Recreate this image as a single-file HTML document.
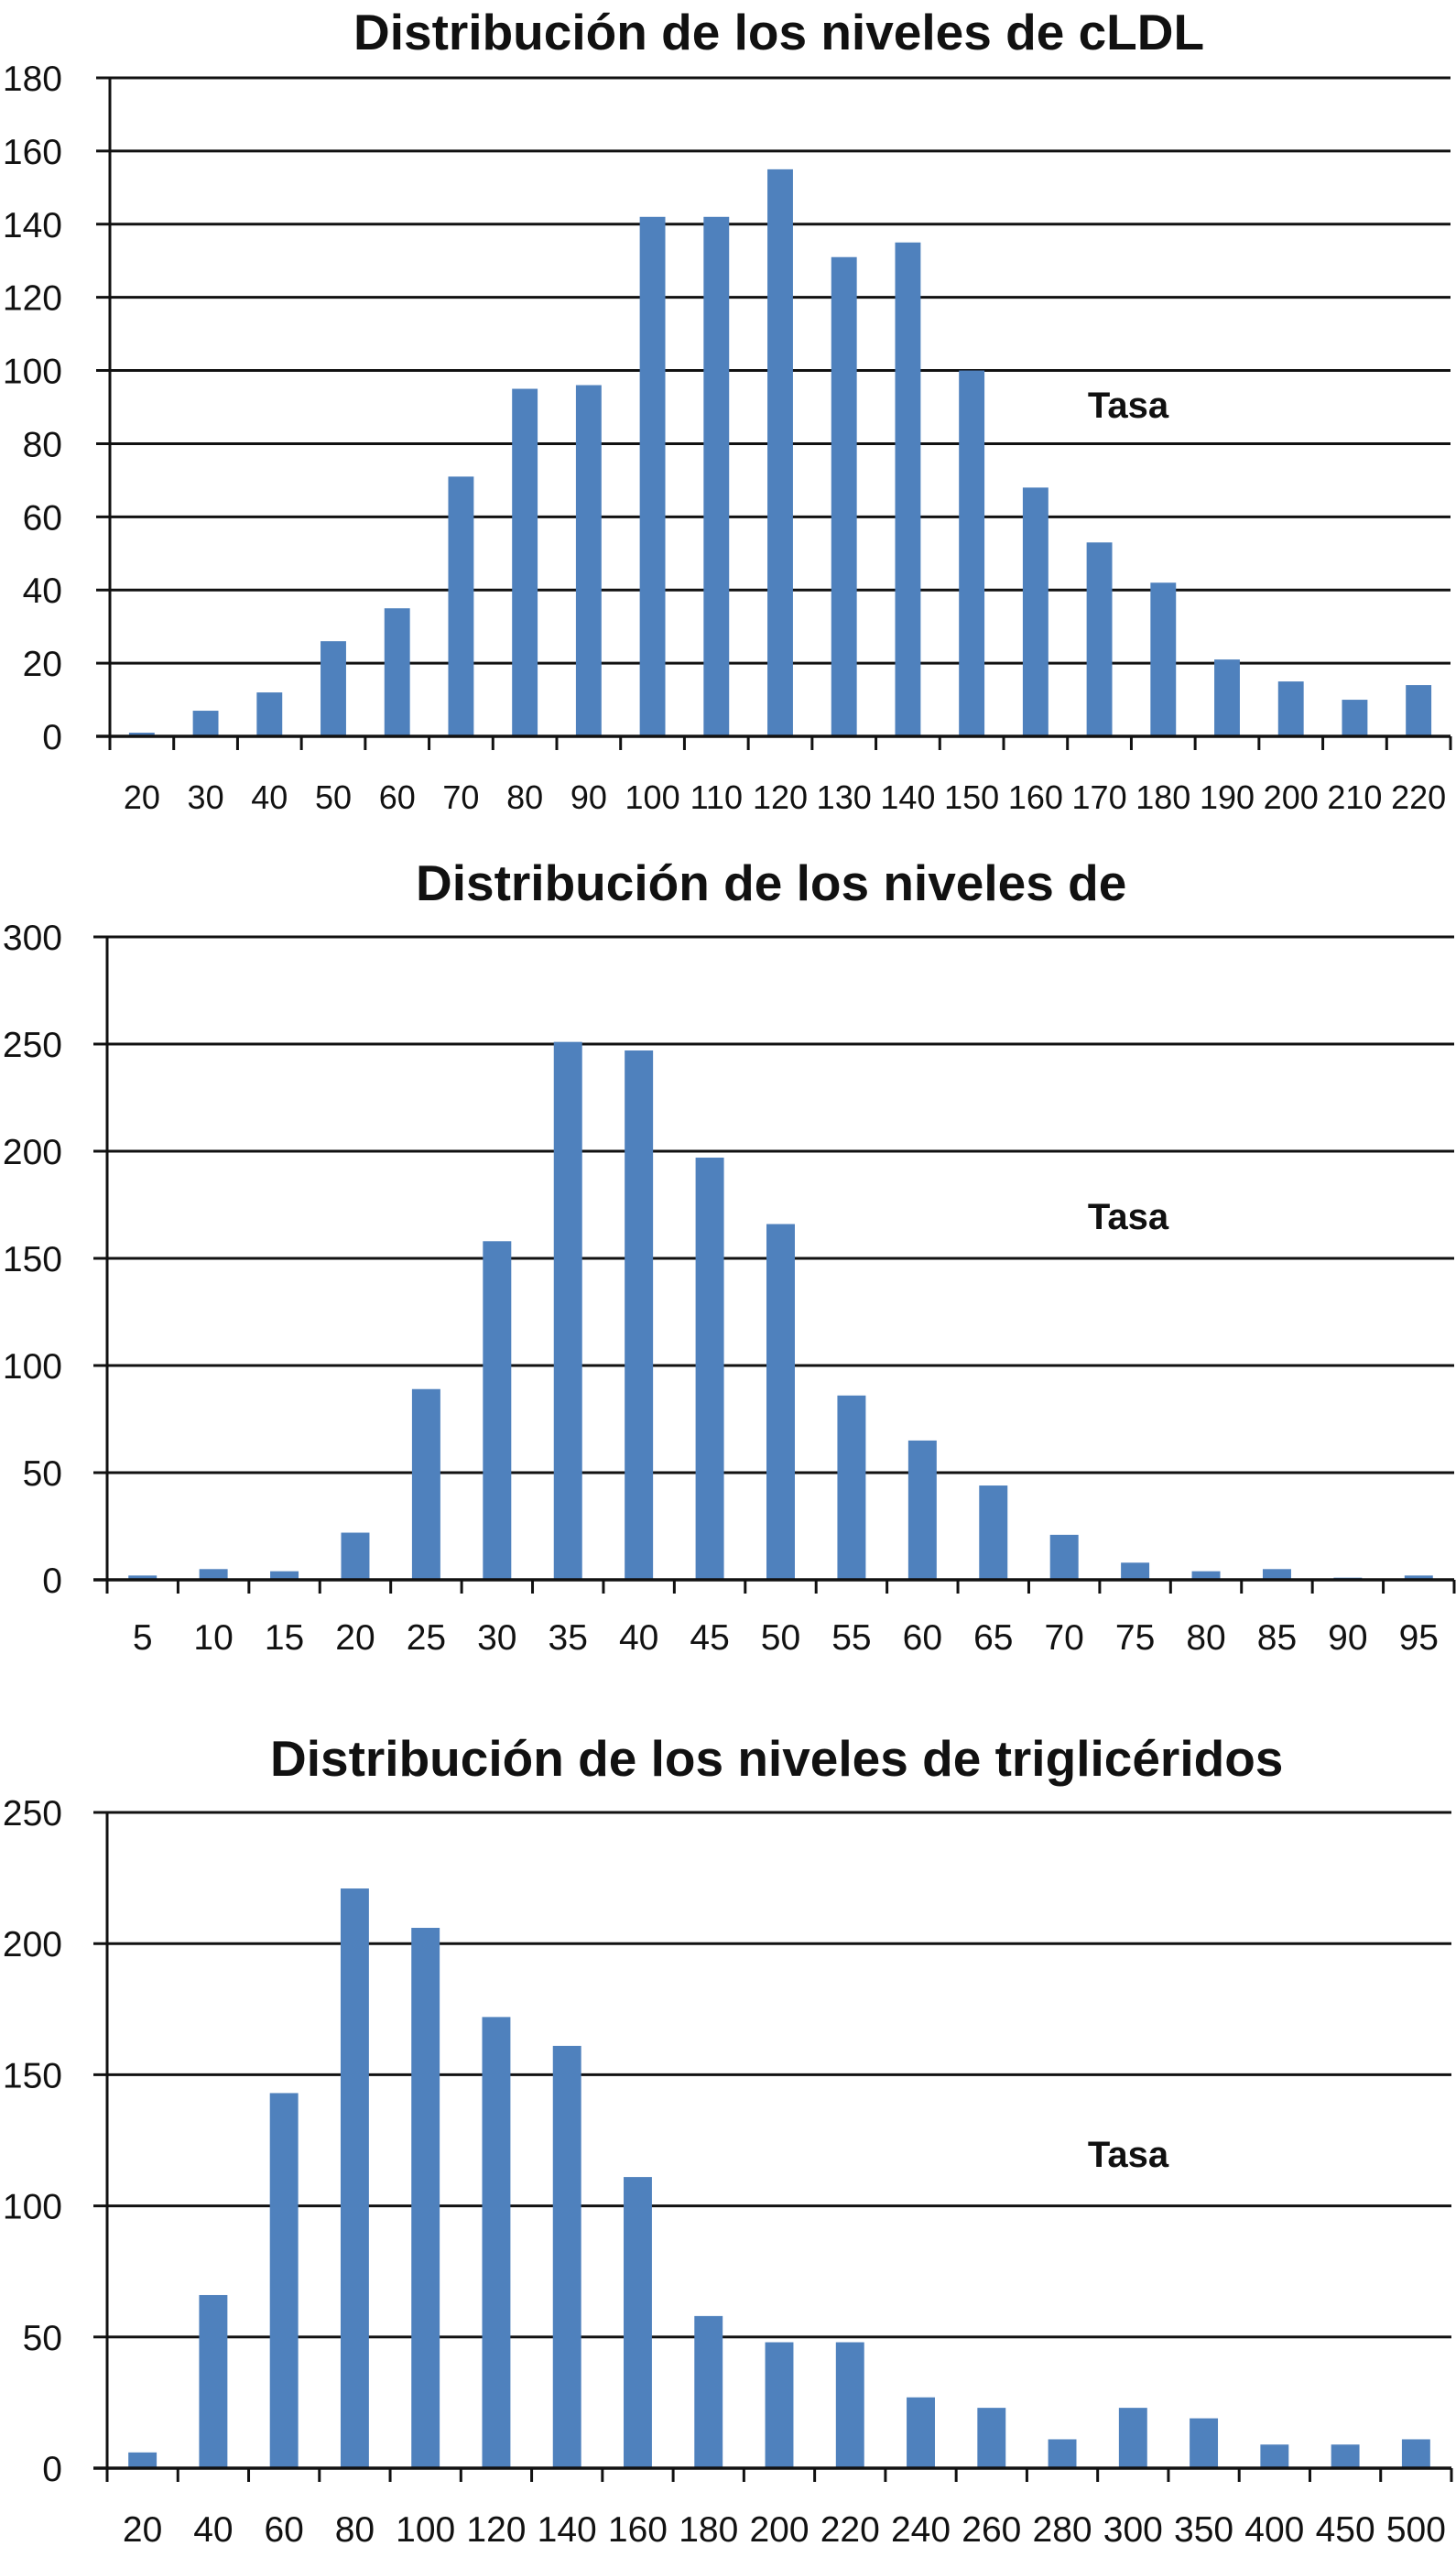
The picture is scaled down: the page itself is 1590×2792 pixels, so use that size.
<!DOCTYPE html>
<html><head><meta charset="utf-8">
<style>
html,body{margin:0;padding:0;background:#fff;}
svg{display:block;font-family:"Liberation Sans",Arial,sans-serif;}
</style></head>
<body>
<svg id="root" width="1590" height="2792" viewBox="0 0 1590 2792" xmlns="http://www.w3.org/2000/svg"></svg>
<script>
// Chart 1: cLDL
const cats1 = ["20","30","40","50","60","70","80","90","100","110","120","130","140","150","160","170","180","190","200","210","220"];
const vals1 = [1,7,12,26,35,71,95,96,142,142,155,131,135,100,68,53,42,21,15,10,14];
const ticks1 = [0,20,40,60,80,100,120,140,160,180];
// Chart 2
const cats2 = ["5","10","15","20","25","30","35","40","45","50","55","60","65","70","75","80","85","90","95"];
const vals2 = [2,5,4,22,89,158,251,247,197,166,86,65,44,21,8,4,5,1,2];
const ticks2 = [0,50,100,150,200,250,300];
// Chart 3: triglicéridos
const cats3 = ["20","40","60","80","100","120","140","160","180","200","220","240","260","280","300","350","400","450","500"];
const vals3 = [6,66,143,221,206,172,161,111,58,48,48,27,23,11,23,19,9,9,11];
const ticks3 = [0,50,100,150,200,250];

const NS = "http://www.w3.org/2000/svg";
const root = document.getElementById("root");
function mk(tag, attrs, parent){
  const e = document.createElementNS(NS, tag);
  for (const k in attrs) e.setAttribute(k, attrs[k]);
  parent.appendChild(e);
  return e;
}

function drawChart(cfg, cats, vals, ticks){
  const g = mk("g", {}, root);
  
  
  const x0 = cfg.x0, x1 = cfg.x1, yTop = cfg.yTop, yZero = cfg.yZero;
  const maxV = ticks[ticks.length-1];
  const yS = v => yZero - (v / maxV) * (yZero - yTop);
  const band = (x1 - x0) / cats.length;
  const xS = i => x0 + band * i;

  const t = mk("text", {x: cfg.titleX, y: cfg.titleY, "font-size": 55, "font-weight": "bold", fill: "#111"}, g);
  t.textContent = cfg.title;
  
  

  ticks.forEach(v => {
    const y = yS(v);
    const ln = mk("line", {x1: x0 - 15, x2: x1, y1: y, y2: y, stroke: "#111", "stroke-width": 3}, g);
    
    
    const lb = mk("text", {x: 68, y: y + 14, "font-size": 39, "text-anchor": "end", fill: "#111"}, g);
    lb.textContent = String(v);
    
    
  });

  vals.forEach((v, i) => {
    const bw = band * 0.4;
    const cx = xS(i) + band / 2;
    const r = mk("rect", {x: cx - bw/2, y: yS(v), width: bw, height: yZero - yS(v), fill: "#4f81bd"}, g);
    
    
    const lb = mk("text", {x: cx, y: cfg.labelY + 13, "font-size": cfg.xFont, "text-anchor": "middle", fill: "#111"}, g);
    lb.textContent = cats[i];
    
    
  });

  for (let i = 0; i <= cats.length; i++) {
    const x = xS(i);
    const tk = mk("line", {x1: x, x2: x, y1: yZero, y2: yZero + 15, stroke: "#111", "stroke-width": 3}, g);
    
    
  }
  const ax = mk("line", {x1: x0, x2: x0, y1: yTop, y2: yZero + 15, stroke: "#111", "stroke-width": 3}, g);
  
  
  const xa = mk("line", {x1: x0 - 15, x2: x1, y1: yZero, y2: yZero, stroke: "#111", "stroke-width": 3.5}, g);
  
  

  const lg = mk("text", {x: 1232, y: cfg.tasaY + 14, "font-size": 40, "font-weight": "bold", "text-anchor": "middle", fill: "#111"}, g);
  lg.textContent = "Tasa";
  
  
}

drawChart({name:"cldl-chart", title:"Distribución de los niveles de cLDL", titleX:386, titleY:54,
  x0:120, x1:1584, yTop:85, yZero:804, labelY:870, tasaY:442, xFont:36}, cats1, vals1, ticks1);
drawChart({name:"hdl-chart", title:"Distribución de los niveles de", titleX:454, titleY:983,
  x0:117, x1:1588, yTop:1023, yZero:1725, labelY:1788, tasaY:1328, xFont:39}, cats2, vals2, ticks2);
drawChart({name:"trigliceridos-chart", title:"Distribución de los niveles de triglicéridos", titleX:295, titleY:1939,
  x0:117, x1:1585, yTop:1979, yZero:2695, labelY:2762, tasaY:2352, xFont:39}, cats3, vals3, ticks3);
</script>
</body></html>
